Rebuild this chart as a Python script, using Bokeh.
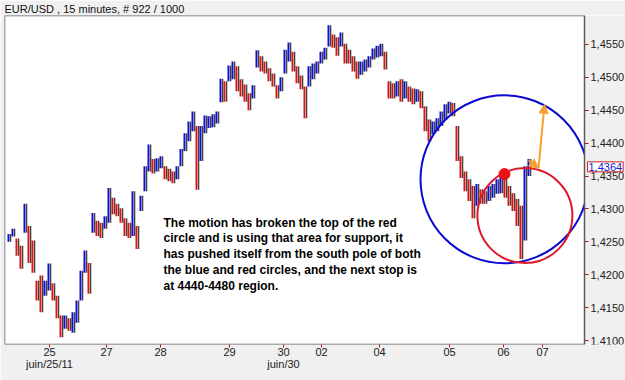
from bokeh.plotting import figure
from bokeh.models import (ColumnDataSource, FixedTicker, Label, Arrow, NormalHead, Range1d,
                          LinearAxis, BoxAnnotation)
from bokeh.embed import file_html
from bokeh.resources import INLINE

# ---- data (EUR/USD, 15 min bars, grouped) ----
bar_high = [1.4262, 1.4270, 1.4255, 1.4244, 1.4308, 1.4274, 1.4252, 1.4191, 1.4199, 1.4191,
            1.4217, 1.4187, 1.4168, 1.4138, 1.4138, 1.4134, 1.4143, 1.4161, 1.4206, 1.4237,
            1.4218, 1.4294, 1.4282, 1.4279, 1.4289, 1.4332, 1.4317, 1.4308, 1.4301, 1.4286,
            1.4279, 1.4327, 1.4274, 1.4320, 1.4365, 1.4398, 1.4376, 1.4377, 1.4380, 1.4365,
            1.4361, 1.4357, 1.4365, 1.4391, 1.4415, 1.4433, 1.4448, 1.4426, 1.4426, 1.4442,
            1.4441, 1.4444, 1.4448, 1.4498, 1.4494, 1.4518, 1.4524, 1.4517, 1.4497, 1.4489,
            1.4476, 1.4488, 1.4541, 1.4532, 1.4524, 1.4514, 1.4506, 1.4488, 1.4500, 1.4542,
            1.4553, 1.4539, 1.4517, 1.4503, 1.4486, 1.4517, 1.4521, 1.4524, 1.4539, 1.4545,
            1.4579, 1.4565, 1.4561, 1.4568, 1.4551, 1.4542, 1.4532, 1.4524, 1.4524, 1.4527,
            1.4532, 1.4544, 1.4548, 1.4551, 1.4539, 1.4494, 1.4491, 1.4494, 1.4497, 1.4494,
            1.4486, 1.4483, 1.4482, 1.4479, 1.4456, 1.4436, 1.4433, 1.4438, 1.4448, 1.4459,
            1.4463, 1.4461, 1.4426, 1.4380, 1.4357, 1.4345, 1.4335, 1.4338, 1.4330, 1.4327,
            1.4335, 1.4338, 1.4345, 1.4350, 1.4353, 1.4335, 1.4324, 1.4315, 1.4305, 1.4365,
            1.4376]
bar_low = [1.4250, 1.4258, 1.4229, 1.4209, 1.4264, 1.4218, 1.4203, 1.4161, 1.4143, 1.4168,
           1.4176, 1.4161, 1.4134, 1.4105, 1.4118, 1.4115, 1.4112, 1.4127, 1.4161, 1.4203,
           1.4171, 1.4264, 1.4259, 1.4256, 1.4270, 1.4279, 1.4292, 1.4289, 1.4279, 1.4259,
           1.4256, 1.4259, 1.4239, 1.4297, 1.4327, 1.4357, 1.4354, 1.4357, 1.4362, 1.4345,
           1.4342, 1.4339, 1.4345, 1.4365, 1.4388, 1.4403, 1.4418, 1.4329, 1.4373, 1.4415,
           1.4423, 1.4424, 1.4430, 1.4462, 1.4463, 1.4494, 1.4497, 1.4479, 1.4471, 1.4463,
           1.4450, 1.4468, 1.4515, 1.4509, 1.4506, 1.4494, 1.4486, 1.4468, 1.4479, 1.4506,
           1.4524, 1.4509, 1.4491, 1.4482, 1.4438, 1.4486, 1.4497, 1.4506, 1.4521, 1.4527,
           1.4547, 1.4545, 1.4533, 1.4547, 1.4521, 1.4521, 1.4509, 1.4498, 1.4504, 1.4509,
           1.4515, 1.4527, 1.4530, 1.4532, 1.4512, 1.4468, 1.4468, 1.4471, 1.4463, 1.4468,
           1.4463, 1.4459, 1.4463, 1.4453, 1.4418, 1.4403, 1.4414, 1.4418, 1.4426, 1.4436,
           1.4445, 1.4441, 1.4373, 1.4347, 1.4327, 1.4312, 1.4286, 1.4305, 1.4308, 1.4308,
           1.4312, 1.4317, 1.4323, 1.4324, 1.4317, 1.4305, 1.4297, 1.4274, 1.4224, 1.4252,
           1.4350]

price_ticks = [1.4100, 1.4150, 1.4200, 1.4250, 1.4300, 1.4350, 1.4400, 1.4450, 1.4500, 1.4550]
day_ticks = [10.25, 24.5, 38.0, 55.25, 68.75, 78.25, 92.75, 110.25, 123.75, 133.5]
day_labels = ["25", "27", "28", "29", "30", "02", "04", "05", "06", "07"]
month_ticks = [10.25, 68.75]
month_labels = ["juin/25/11", "juin/30"]
last_price = 1.4364
title_text = "EUR/USD , 15 minutes, # 922 / 1000"

# annotation anchors (bar index, price)
dot_pt = (124, 1.4353)
blue_center = (124, 1.4345)
red_center = (129.1, 1.4290)
arrow1 = (130, 1.4374, 132.5, 1.4362)
arrow2 = (132.5, 1.4362, 134, 1.4459)

note_lines = [
    "The motion has broken the top of the red",
    "circle and is using that area for support, it",
    "has pushed itself from the south pole of both",
    "the blue and red circles, and the next stop is",
    "at 4440-4480 region.",
]

FONT = "Liberation Sans"
TXT = "#222222"
PANEL = "#f0f0f0"

# ---- build ----
n = len(bar_high)
xs = list(range(n))
mids = [(h + l) / 2 for h, l in zip(bar_high, bar_low)]
colors = []
for i in range(n):
    if i == 0 or mids[i] >= mids[i - 1]:
        colors.append("#1010c8")
    else:
        colors.append("#d01818")

src = ColumnDataSource(dict(x=xs, x2=[v + 0.55 for v in xs], hi=bar_high, lo=bar_low, c=colors))

# chart area spans bar slots X0..X1; the price scale lives to the right of X1
X0, X1 = -1, 144
W, LEFT = 625, 4
XR = X0 + (W - LEFT) / 4.0   # 4 px per bar slot
p = figure(width=W, height=380, output_backend="svg", toolbar_location=None,
           x_range=Range1d(X0, XR), y_range=Range1d(1.4094, 1.4594),
           x_axis_location="below", y_axis_location=None,
           min_border_left=LEFT, min_border_right=0, min_border_top=14, min_border_bottom=36)
p.background_fill_color = "white"
p.border_fill_color = PANEL
p.outline_line_color = None
p.grid.visible = False

p.title.text = title_text
p.title.align = "left"
p.title.text_font = FONT
p.title.text_font_size = "11px"
p.title.text_font_style = "normal"
p.title.text_color = "#111111"
p.title.standoff = 1
p.title.offset = 0

p.segment(x0="x2", y0="lo", x1="x2", y1="hi", source=src, line_color="#222222", line_width=1.1)
p.segment(x0="x", y0="lo", x1="x", y1="hi", source=src, line_color="c", line_width=2.0)

# circles
p.scatter([blue_center[0]], [blue_center[1]], marker="circle", size=168,
          fill_color=None, line_color="#0a0ad0", line_width=2)
p.scatter([red_center[0]], [red_center[1]], marker="circle", size=95,
          fill_color=None, line_color="#e0182a", line_width=2)
p.scatter([dot_pt[0]], [dot_pt[1]], marker="circle", size=11,
          fill_color="#ee1111", line_color="#ee1111")

for a in (arrow1, arrow2):
    p.add_layout(Arrow(end=NormalHead(size=9, fill_color="#f5a030", line_color="#f5a030"),
                       x_start=a[0], y_start=a[1], x_end=a[2], y_end=a[3],
                       line_color="#f5a030", line_width=2))

# grey price-scale panel and chart border
p.add_layout(BoxAnnotation(left=X1, fill_color=PANEL, fill_alpha=1, line_color=None, level="glyph"))
p.add_layout(BoxAnnotation(right=X1, fill_color=None, fill_alpha=0, line_color="#5a5a5a",
                           line_width=1.5, line_alpha=1, level="overlay"))

# price axis drawn at the chart's right edge
yax = LinearAxis(fixed_location=X1, ticker=FixedTicker(ticks=price_ticks),
                 major_label_overrides={t: ("%.4f" % t).replace(".", ",") for t in price_ticks},
                 axis_line_color=None, major_tick_line_color="#c01010",
                 major_tick_out=4, major_tick_in=0, minor_tick_line_color=None,
                 major_label_standoff=2, major_label_text_font=FONT,
                 major_label_text_font_size="11px", major_label_text_color=TXT)
p.add_layout(yax, "right")

xax = p.xaxis[0]
xax.ticker = FixedTicker(ticks=day_ticks)
xax.major_label_overrides = {t: l for t, l in zip(day_ticks, day_labels)}
xax.axis_line_color = None
xax.major_tick_line_color = "#c01010"
xax.major_tick_out = 3
xax.major_tick_in = 0
xax.minor_tick_line_color = None
xax.major_label_standoff = 0
xax.major_label_text_font = FONT
xax.major_label_text_font_size = "11px"
xax.major_label_text_color = TXT

month_ax = LinearAxis(ticker=FixedTicker(ticks=month_ticks),
                      major_label_overrides={t: l for t, l in zip(month_ticks, month_labels)},
                      axis_line_color=None, major_tick_line_color=None, minor_tick_line_color=None,
                      major_tick_out=0, major_tick_in=0, minor_tick_out=0, major_label_standoff=-1,
                      major_label_text_font=FONT, major_label_text_font_size="11px",
                      major_label_text_color=TXT)
p.add_layout(month_ax, "below")

# current price tag
p.add_layout(Label(x=X1 + 0.75, y=last_price, text=("%.4f" % last_price).replace(".", ","),
                   text_align="left", text_baseline="middle",
                   text_font=FONT, text_font_size="11px", text_color="#1a1ad0",
                   border_line_color="#d02020", border_line_width=1,
                   background_fill_color="white", padding=1, level="overlay"))

for k, line in enumerate(note_lines):
    p.add_layout(Label(x=159, y=122 - k * 15.75, x_units="screen", y_units="screen", text=line,
                       text_align="left", text_baseline="middle",
                       text_font=FONT, text_font_size="12px",
                       text_font_style="bold", text_color="#000000"))

open("out.html", "w").write(file_html(p, INLINE))
